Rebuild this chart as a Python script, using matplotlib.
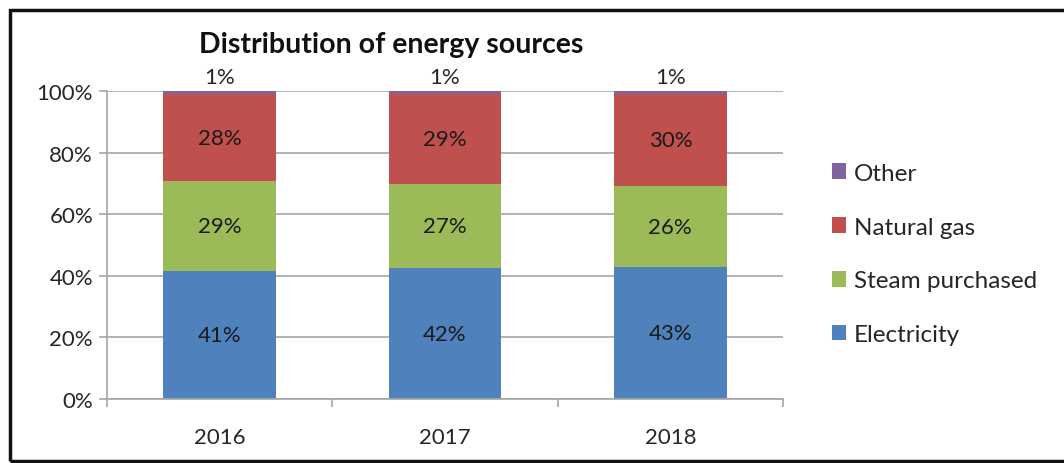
import matplotlib
matplotlib.use("Agg")
import matplotlib.pyplot as plt
import numpy as np
from matplotlib.patches import Rectangle

plt.rcParams['font.family'] = ['Lato', 'DejaVu Sans']

years = ["2016", "2017", "2018"]
series_names = ["Electricity", "Steam purchased", "Natural gas", "Other"]
electricity = [41, 42, 43]
steam_purchased = [29, 27, 26]
natural_gas = [28, 29, 30]
other = [1, 1, 1]
colors = ["#4F81BD", "#9BBB59", "#C0504D", "#8064A2"]

values = np.array([electricity, steam_purchased, natural_gas, other], dtype=float)
shares = values / values.sum(axis=0) * 100  # 100% stacked

W, H = 1064, 464
fig = plt.figure(figsize=(W / 100, H / 100), dpi=100)

# outer chart frame
fig.add_artist(Rectangle((9.5 / W, 2 / H), (W + 20) / W, (H - 12.5) / H,
                         transform=fig.transFigure, fill=False,
                         edgecolor="#111111", linewidth=2.5))

ax = fig.add_axes([107 / W, (H - 400) / H, (783 - 107) / W, (400 - 92) / H])
x = np.arange(len(years))
bottom = np.zeros(len(years))
for name, vals, col in zip(series_names, shares, colors):
    ax.bar(x, vals, width=0.5, bottom=bottom, color=col, label=name, zorder=2)
    bottom += vals

fs = 16
# data labels
for i in range(len(years)):
    base = 0.0
    for k in range(3):
        ax.text(x[i], base + shares[k, i] / 2, f"{int(values[k, i])}%",
                ha="center", va="center", fontsize=fs, color="#1a1a1a", zorder=3)
        base += shares[k, i]
    ax.text(x[i], 100 + 1.2, f"{int(values[3, i])}%", ha="center", va="bottom",
            fontsize=fs, color="#262626", zorder=3)

ax.set_xlim(-0.5, len(years) - 0.5)
ax.set_ylim(0, 100)
ax.set_yticks(np.arange(0, 101, 20))
ax.set_yticklabels([f"{v}%" for v in range(0, 101, 20)])
ax.yaxis.grid(True, color="#a6a6a6", linewidth=1.2, zorder=0)
ax.set_axisbelow(True)
ax.set_xticks(x)
ax.set_xticklabels(years)
ax.set_xticks(np.arange(-0.5, len(years), 1.0), minor=True)
ax.tick_params(axis="x", which="major", length=0, pad=20, labelsize=fs, labelcolor="#262626")
ax.tick_params(axis="x", which="minor", length=6, color="#a6a6a6", width=1.2)
ax.tick_params(axis="y", length=6, color="#a6a6a6", width=1.2, pad=4,
               labelsize=fs, labelcolor="#262626")
for side in ["top", "right"]:
    ax.spines[side].set_visible(False)
for side in ["left", "bottom"]:
    ax.spines[side].set_color("#a6a6a6")
    ax.spines[side].set_linewidth(1.2)

fig.text(391 / W, 1 - 45 / H, "Distribution of energy sources", ha="center",
         va="center", fontsize=20.5, fontweight="bold", color="#111111")

handles, labels = ax.get_legend_handles_labels()
fig.legend(handles[::-1], labels[::-1], loc="center left",
           bbox_to_anchor=(810 / W, 1 - 255 / H), frameon=False,
           fontsize=17.5, handlelength=0.6, handleheight=0.6, handletextpad=0.3,
           labelspacing=1.35, labelcolor="#262626")

fig.savefig("out.png", dpi=100)
